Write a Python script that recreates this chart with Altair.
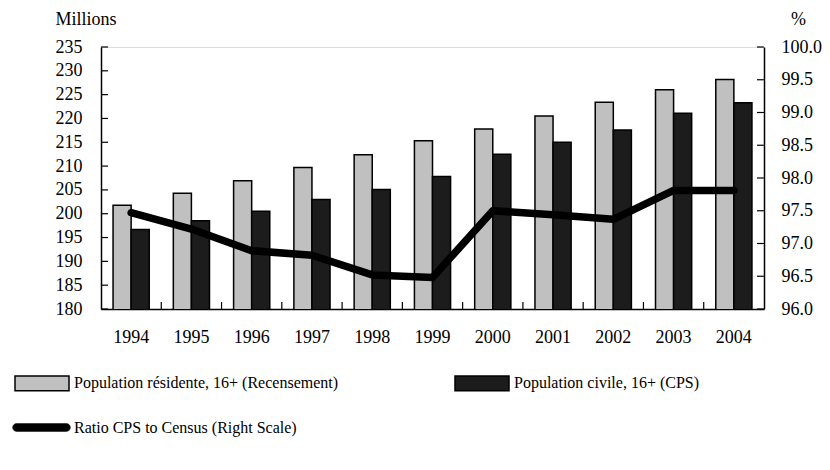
import altair as alt
import pandas as pd

# Survey years
years = ["1994", "1995", "1996", "1997", "1998", "1999",
         "2000", "2001", "2002", "2003", "2004"]

# Resident population 16+ from the census (millions)
census_pop = [201.8, 204.3, 206.9, 209.7, 212.4, 215.3,
              217.8, 220.5, 223.4, 226.0, 228.2]

# Civilian population 16+ from the CPS (millions)
cps_pop = [196.7, 198.5, 200.5, 203.0, 205.1, 207.8,
           212.5, 215.0, 217.6, 221.1, 223.3]

# CPS / census ratio (percent, right scale)
ratio_pct = [97.47, 97.22, 96.89, 96.82, 96.52, 96.48,
             97.50, 97.44, 97.37, 97.81, 97.81]

census_name = "Population résidente, 16+ (Recensement)"
cps_name = "Population civile, 16+ (CPS)"
ratio_name = "Ratio CPS to Census (Right Scale)"

left_ticks = list(range(180, 236, 5))
right_ticks = [96.0, 96.5, 97.0, 97.5, 98.0, 98.5, 99.0, 99.5, 100.0]
x_boundaries = list(range(1, len(years)))

bars_df = pd.DataFrame({
    "year": years * 2,
    "series": [census_name] * len(years) + [cps_name] * len(years),
    "value": census_pop + cps_pop,
})
ratio_df = pd.DataFrame({"year": years, "ratio": ratio_pct, "series": [ratio_name] * len(years)})

FONT = "Liberation Serif, Times New Roman, serif"
AX_SIZE = 18
LEG_SIZE = 16
W, H = 663, 262

x_band = alt.Scale(domain=years, paddingInner=0.4, paddingOuter=0.2)
left_scale = alt.Scale(domain=[180, 235], zero=False, nice=False)
right_scale = alt.Scale(domain=[96, 100], zero=False, nice=False)

bar_symbol = "M-1,-0.27H1V0.27H-1Z"
line_symbol = ("M-0.86,-0.135H0.86A0.135,0.135 0 0 1 0.86,0.135"
               "H-0.86A0.135,0.135 0 0 1 -0.86,-0.135Z")

axis_text = dict(labelFont=FONT, labelFontSize=AX_SIZE, labelColor="black",
                 titleFont=FONT, titleFontSize=AX_SIZE, titleFontWeight="normal",
                 titleColor="black", domainColor="black", domainWidth=1.5,
                 ticks=False, tickSize=0, grid=False, labelOverlap=False)

left_axis = alt.Axis(values=left_ticks, labelPadding=19,
                     title="Millions", titleAngle=0, titleAlign="left",
                     titleBaseline="middle", titleX=-46, titleY=-28, **axis_text)
right_axis = alt.Axis(orient="right", values=right_ticks, format=".1f", labelPadding=17,
                      title="%", titleAngle=0, titleAlign="center",
                      titleBaseline="middle", titleX=34, titleY=-28, **axis_text)

bars = alt.Chart(bars_df).mark_bar(stroke="black", strokeWidth=1.5, clip=True).encode(
    x=alt.X("year:N", scale=x_band, title=None,
            axis=alt.Axis(labelPadding=19, labelAngle=0, **axis_text)),
    xOffset=alt.XOffset("series:N", sort=[census_name, cps_name]),
    y=alt.Y("value:Q", scale=left_scale, axis=left_axis, title="Millions"),
    fill=alt.Fill("series:N", sort=[census_name, cps_name],
                  scale=alt.Scale(domain=[census_name, cps_name], range=["#c0c0c0", "#1c1c1c"]),
                  legend=alt.Legend(title=None, orient="none", legendX=-87, legendY=308,
                                    direction="horizontal", columns=2, columnPadding=113,
                                    symbolType=bar_symbol, symbolSize=2916,
                                    symbolStrokeColor="black", symbolStrokeWidth=1.5,
                                    labelOffset=4, labelFont=FONT, labelFontSize=LEG_SIZE,
                                    labelColor="black", labelLimit=500)),
)

left_tick_marks = alt.Chart(pd.DataFrame({"v": left_ticks})).mark_rule(
    color="black", strokeWidth=1.2).encode(
    y=alt.Y("v:Q", scale=left_scale, axis=left_axis, title="Millions"),
    x=alt.value(0), x2=alt.value(7),
)

line = alt.Chart(ratio_df).mark_line(strokeWidth=7.5, strokeCap="round", strokeJoin="round").encode(
    x=alt.X("year:N", scale=x_band, axis=None),
    y=alt.Y("ratio:Q", scale=right_scale, axis=right_axis, title="%"),
    stroke=alt.Stroke("series:N", scale=alt.Scale(domain=[ratio_name], range=["black"]),
                      legend=alt.Legend(title=None, orient="none", legendX=-89, legendY=351,
                                        symbolType=line_symbol, symbolSize=3364,
                                        symbolFillColor="black", symbolStrokeWidth=0.5,
                                        labelOffset=3, labelFont=FONT, labelFontSize=LEG_SIZE,
                                        labelColor="black", labelLimit=500)),
)

right_tick_marks = alt.Chart(pd.DataFrame({"v": right_ticks})).mark_rule(
    color="black", strokeWidth=1.2).encode(
    y=alt.Y("v:Q", scale=right_scale, axis=right_axis, title="%"),
    x=alt.value(W - 7), x2=alt.value(W),
)

x_tick_marks = alt.Chart(pd.DataFrame({"b": x_boundaries})).mark_rule(
    color="black", strokeWidth=1.2).encode(
    x=alt.X("b:Q", scale=alt.Scale(domain=[0, len(years)], nice=False, zero=False), axis=None),
    y=alt.value(H - 7), y2=alt.value(H),
)

left_layer = alt.layer(bars, left_tick_marks)
right_layer = alt.layer(line, right_tick_marks)

chart = alt.layer(left_layer, right_layer, x_tick_marks).resolve_scale(
    y="independent", x="independent", fill="independent", stroke="independent"
).properties(
    width=W, height=H,
    autosize=alt.AutoSizeParams(type="none"),
    padding={"left": 101, "top": 47, "right": 830 - 101 - W, "bottom": 470 - 47 - H},
).configure_view(
    stroke="#808080", strokeWidth=1.5
).configure(background="white")

chart.save("out.html", embed_options={"renderer": "svg", "actions": False})
